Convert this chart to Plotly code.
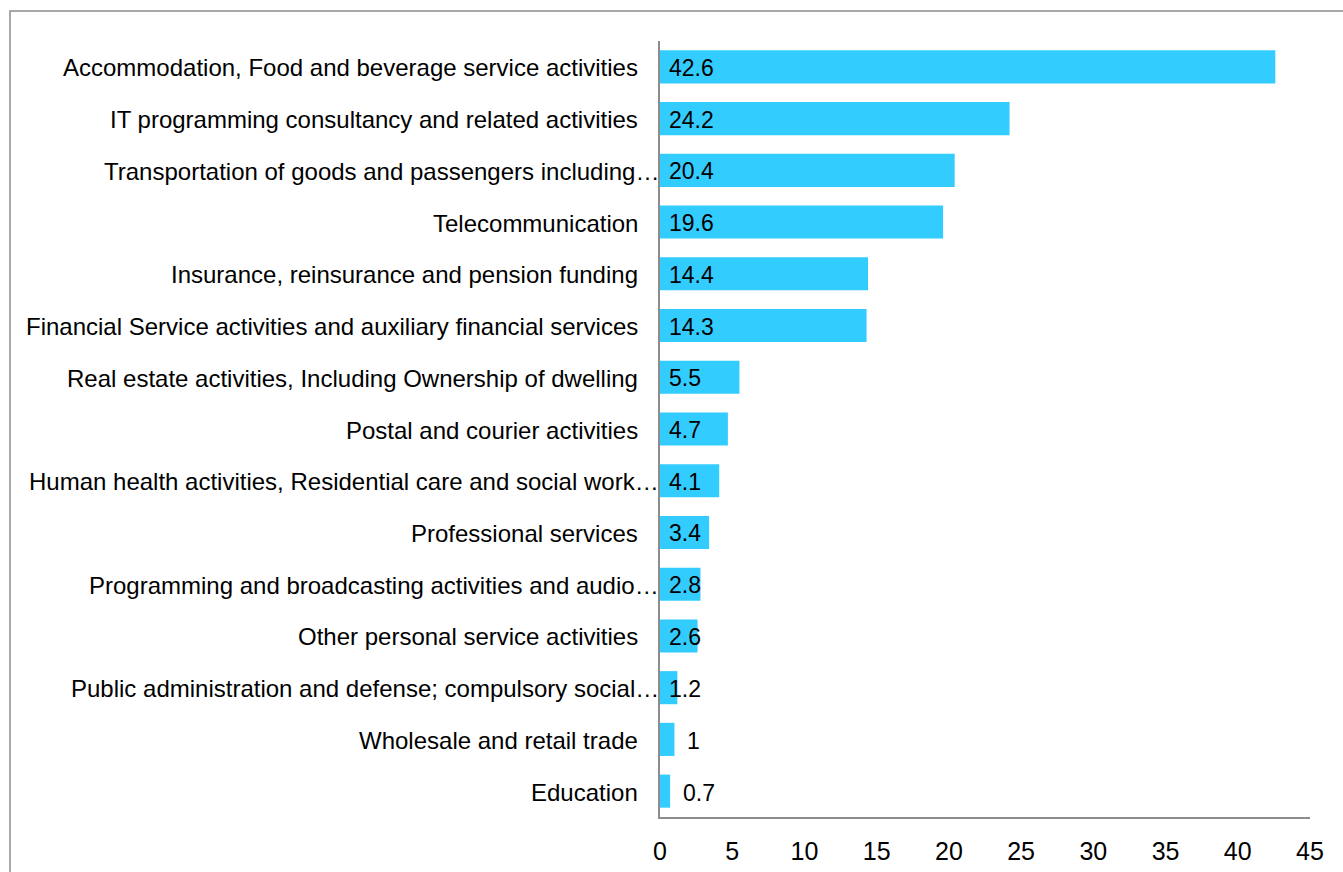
import plotly.graph_objects as go

# Sector shares, largest first (top of chart)
sectors = [
    "Accommodation, Food and beverage service activities",
    "IT programming consultancy and related activities",
    "Transportation of goods and passengers including…",
    "Telecommunication",
    "Insurance, reinsurance and pension funding",
    "Financial Service activities and auxiliary financial services",
    "Real estate activities, Including Ownership of dwelling",
    "Postal and courier activities",
    "Human health activities, Residential care and social work…",
    "Professional services",
    "Programming and broadcasting activities and audio…",
    "Other personal service activities",
    "Public administration and defense; compulsory social…",
    "Wholesale and retail trade",
    "Education",
]
values = [42.6, 24.2, 20.4, 19.6, 14.4, 14.3, 5.5, 4.7, 4.1, 3.4, 2.8, 2.6, 1.2, 1, 0.7]
x_ticks = [0, 5, 10, 15, 20, 25, 30, 35, 40, 45]

FONT = "Liberation Sans, Arial, sans-serif"
BAR_COLOR = "#33CCFF"
AXIS_COLOR = "#8c8c8c"

fig = go.Figure(
    go.Bar(
        x=values,
        y=sectors,
        orientation="h",
        marker=dict(color=BAR_COLOR, line=dict(width=0)),
        width=0.64,
        hoverinfo="x+y",
    )
)

annotations = []
# value labels near the bar base; very short bars get the label just past the end
for s, v in zip(sectors, values):
    if v < 1.1:
        annotations.append(dict(x=v, y=s, xref="x", yref="y", text=str(v), showarrow=False,
                                xanchor="left", xshift=11, yshift=-2,
                                font=dict(family=FONT, size=23, color="#000000")))
    else:
        annotations.append(dict(x=0, y=s, xref="x", yref="y", text=str(v), showarrow=False,
                                xanchor="left", xshift=7, yshift=-1,
                                font=dict(family=FONT, size=23, color="#000000")))

# category labels, right aligned against the axis
for s in sectors:
    truncated = s.endswith("…")
    annotations.append(dict(x=0, y=s, xref="x", yref="y", text=s, showarrow=False,
                            xanchor="right", xshift=1 if truncated else -20, yshift=-1,
                            font=dict(family=FONT, size=24, color="#000000")))

fig.update_layout(
    width=1343,
    height=872,
    margin=dict(l=660, r=33, t=41, b=55, autoexpand=False),
    paper_bgcolor="white",
    plot_bgcolor="white",
    showlegend=False,
    font=dict(family=FONT, size=24, color="#000000"),
    annotations=annotations,
    shapes=[
        dict(type="rect", xref="paper", yref="paper", x0=-1.0, x1=2.0, y0=-1.0, y1=1.0387,
             line=dict(color="#8c8c8c", width=1.5), fillcolor="rgba(0,0,0,0)", layer="below"),
    ],
)

fig.update_xaxes(
    range=[0, 45],
    tickvals=x_ticks,
    ticktext=[str(t) for t in x_ticks],
    showgrid=False,
    zeroline=False,
    showline=True,
    linecolor=AXIS_COLOR,
    linewidth=1.5,
    ticks="",
    automargin=False,
    ticklabelstandoff=11,
    tickfont=dict(family=FONT, size=25, color="#000000"),
)
fig.update_yaxes(
    autorange=False,
    range=[len(sectors) - 0.5, -0.5],
    showticklabels=False,
    showgrid=False,
    zeroline=False,
    showline=True,
    linecolor=AXIS_COLOR,
    linewidth=1.5,
    ticks="",
    automargin=False,
)

fig.write_html("out.html")
